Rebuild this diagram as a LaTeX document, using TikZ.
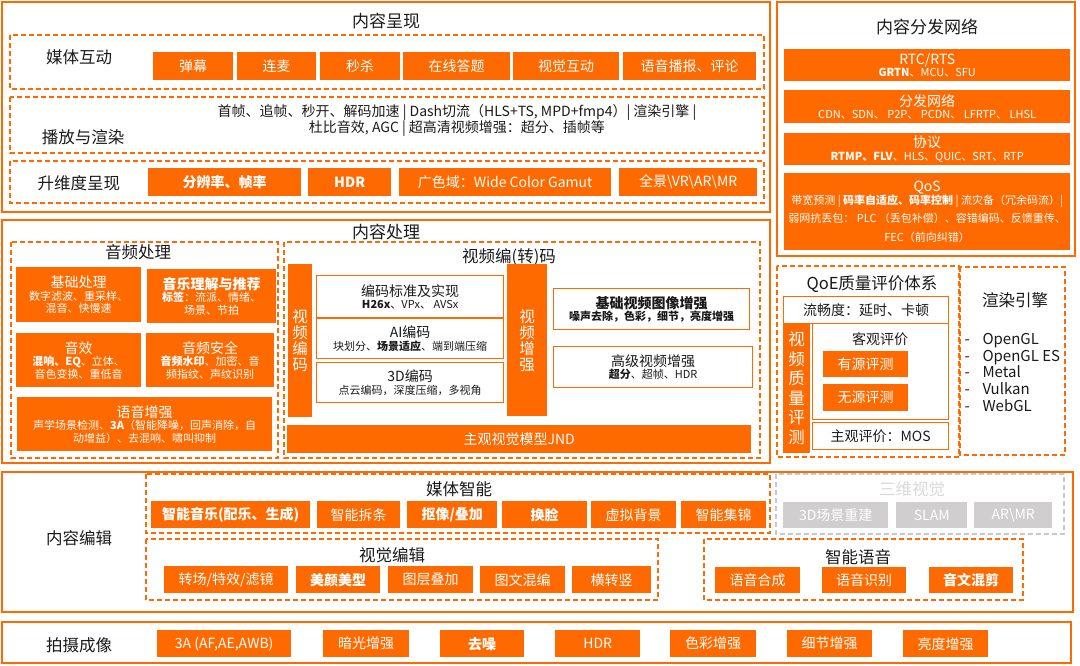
\documentclass[tikz,border=0pt]{standalone}
\usepackage{fontspec}
\setmainfont{Noto Sans CJK SC}

\definecolor{ali}{HTML}{FF6A00}
\definecolor{ink}{HTML}{1A1A1A}
\definecolor{mist}{HTML}{D0CECE}
\definecolor{mistline}{HTML}{C8C8C8}
\definecolor{misttext}{HTML}{D9D9D9}

\newcommand{\titlesize}{\fontsize{17}{20}\selectfont}
\newcommand{\labelsize}{\fontsize{16.5}{19}\selectfont}
\newcommand{\boxsize}{\fontsize{14}{16}\selectfont}
\newcommand{\notesize}{\fontsize{11}{12.5}\selectfont}
\newcommand{\stacksize}{\fontsize{15.5}{16}\selectfont}

\tikzset{
  panel/.style={draw=ali, line width=2pt},
  group/.style={draw=ali, line width=1.4pt, dash pattern=on 5pt off 3pt},
  ghost/.style={draw=mistline, line width=1.4pt, dash pattern=on 5pt off 3pt},
  tag/.style={fill=ali, text=white, inner sep=0pt, align=center, font=\boxsize},
  greytag/.style={fill=mist, text=white, inner sep=0pt, font=\boxsize},
  frame/.style={draw=ali, line width=1.3pt, fill=white, text=ink, inner sep=0pt, align=center, font=\boxsize},
  wh/.style 2 args={minimum width=#1, minimum height=#2, anchor=north west},
  head/.style={font=\titlesize, text=ink},
  side/.style={font=\labelsize, text=ink},
}

\begin{document}
\begin{tikzpicture}[x=1pt, y=-1pt]
    \fill[white] (0,0) rectangle (1080,666);
    \useasboundingbox (0,0) rectangle (1080,666);

    % --- Parte A: content presentation ---
    \draw[panel] (2,2) rectangle (770,212);
    \node[head] (present) at (386,21) {内容呈现};

    % media interaction row
    \draw[group] (10,35) rectangle (764,89);
    \node[side] (interact) at (79,57) {媒体互动};
    \node[tag, wh={80}{28}] (danmu) at (153,52) {弹幕};
    \node[tag, wh={79}{28}] (lianmai) at (237,52) {连麦};
    \node[tag, wh={80}{28}] (miaosha) at (320,52) {秒杀};
    \node[tag, wh={107}{28}] (dati) at (403,52) {在线答题};
    \node[tag, wh={106}{28}] (shijue) at (513,52) {视觉互动};
    \node[tag, wh={133}{28}] (bobao) at (623,52) {语音播报、评论};

    % playback and rendering row
    \draw[group] (10,97) rectangle (764,153);
    \node[side] (render) at (83,137) {播放与渲染};
    \node[font=\boxsize, text=ink, align=center] (playtext) at (457,120)
        {首帧、追帧、秒开、解码加速 | Dash切流（HLS+TS, MPD+fmp4）| 渲染引擎 |\\杜比音效, AGC | 超高清视频增强：超分、插帧等};

    % dimension upgrade row
    \draw[group] (10,161) rectangle (764,203);
    \node[side] (dimension) at (79,183) {升维度呈现};
    \node[tag, wh={153}{28}, font=\boxsize\bfseries] (fenbian) at (148,168) {分辨率、帧率};
    \node[tag, wh={83}{28}, font=\boxsize\bfseries] (hdrtop) at (308,168) {HDR};
    \node[tag, wh={212}{28}] (gamut) at (399,168) {广色域：Wide Color Gamut};
    \node[tag, wh={138}{28}] (vrar) at (619,168) {全景\textbackslash VR\textbackslash AR\textbackslash MR};

    % --- Parte B: content delivery network ---
    \draw[panel] (777,2) rectangle (1075,256);
    \node[head] (cdn) at (927,27) {内容分发网络};
    \node[tag, wh={286}{32}, font=\notesize] (rtc) at (784,49)
        {{\boxsize RTC/RTS}\\\textbf{GRTN}、MCU、SFU};
    \node[tag, wh={286}{33}, font=\notesize] (fenfa) at (784,90)
        {{\boxsize 分发网络}\\CDN、SDN、 P2P、 PCDN、 LFRTP、 LHSL};
    \node[tag, wh={286}{32}, font=\notesize] (xieyi) at (784,133)
        {{\boxsize 协议}\\\textbf{RTMP、FLV}、HLS、QUIC、SRT、RTP};
    \node[tag, wh={286}{77}, font=\notesize] (qos) at (784,173)
        {{\boxsize QoS}\\带宽预测 | \textbf{码率自适应、码率控制} | 流灾备（冗余码流）|\\[6pt]弱网抗丢包： PLC （丢包补偿）、容错编码、反馈重传、\\[6pt]FEC（前向纠错）};

    % --- Parte C: content processing ---
    \draw[panel] (2,220) rectangle (770,463);
    \node[head] (process) at (386,232) {内容处理};

    % audio processing
    \draw[group] (11,242) rectangle (278,458);
    \node[side] (audio) at (138,252) {音频处理};
    \node[tag, wh={125}{55}, font=\notesize] (basic) at (16,267)
        {{\boxsize 基础处理}\\数字滤波、重采样、\\混音、快慢速};
    \node[tag, wh={129}{54}, font=\notesize] (music) at (147,269)
        {{\boxsize\bfseries 音乐理解与推荐}\\\textbf{标签}：流派、情绪、\\场景、节拍};
    \node[tag, wh={125}{54}, font=\notesize] (effect) at (16,333)
        {{\boxsize 音效}\\\textbf{混响、EQ}、立体、\\音色变换、重低音};
    \node[tag, wh={128}{54}, font=\notesize] (safety) at (146,333)
        {{\boxsize 音频安全}\\\textbf{音频水印}、加密、音\\频指纹、声纹识别};
    \node[tag, wh={255}{54}, font=\notesize] (speech) at (17,397)
        {{\boxsize 语音增强}\\声学场景检测、\textbf{3A}（智能降噪，回声消除，自\\动增益）、去混响、啸叫抑制};

    % video transcoding
    \draw[group] (284,242) rectangle (760,458);
    \node[side] (video) at (509,257) {视频编(转)码};
    \node[tag, wh={24}{153}, font=\stacksize] (vcode) at (288,264) {视\\频\\编\\码};
    \node[frame, wh={187}{42}, font=\notesize] (std) at (316,275)
        {{\boxsize 编码标准及实现}\\\textbf{H26x}、VPx、 AVSx};
    \node[frame, wh={187}{40}, font=\notesize] (aicode) at (316,318)
        {{\boxsize AI编码}\\块划分、\textbf{场景适应}、端到端压缩};
    \node[frame, wh={187}{40}, font=\notesize] (code3d) at (316,362)
        {{\boxsize 3D编码}\\点云编码，深度压缩，多视角};
    \node[tag, wh={40}{152}, font=\stacksize] (venh) at (507,264) {视\\频\\增\\强};
    \node[frame, wh={196}{41}, font=\notesize\bfseries] (basicenh) at (553,288)
        {{\boxsize 基础视频图像增强}\\噪声去除，色彩，细节，亮度增强};
    \node[frame, wh={199}{41}, font=\notesize] (advenh) at (553,346)
        {{\boxsize 高级视频增强}\\\textbf{超分}、超帧、HDR};
    \node[tag, wh={464}{28}] (jnd) at (287,425) {主观视觉模型JND};

    % QoE
    \draw[group] (777,266) rectangle (959,457);
    \node[side] (qoe) at (872,284) {QoE质量评价体系};
    \node[frame, wh={165}{27}] (fluent) at (783,296) {流畅度：延时、卡顿};
    \node[frame, wh={136}{96}] (objective) at (812,323) {};
    \node[font=\boxsize, text=ink] (objtitle) at (880,339) {客观评价};
    \node[tag, wh={85}{26}] (fullref) at (823,351) {有源评测};
    \node[tag, wh={85}{27}] (noref) at (823,384) {无源评测};
    \node[frame, wh={136}{27}] (mos) at (812,422) {主观评价：MOS};
    \node[tag, wh={27}{130}, font=\fontsize{16.5}{19.5}\selectfont] (vqa) at (783,323) {视\\频\\质\\量\\评\\测};

    % render engines
    \draw[group] (960,267) rectangle (1065,455);
    \node[side] (engine) at (1015,300) {渲染引擎};
    \node[font=\fontsize{15}{16.7}\selectfont, text=ink, align=left, anchor=west] (apis) at (961,372.5)
        {\makebox[18pt][l]{-}OpenGL\\\makebox[18pt][l]{-}OpenGL ES\\\makebox[18pt][l]{-}Metal\\\makebox[18pt][l]{-}Vulkan\\\makebox[18pt][l]{-}WebGL};

    % --- Parte D: content editing ---
    \draw[panel] (2,472) rectangle (1073,612);
    \node[side] (edit) at (79,538) {内容编辑};

    % media intelligence
    \draw[group] (146,474) rectangle (770,533);
    \node[side] (mediaai) at (459,489) {媒体智能};
    \node[tag, wh={159}{27}, font=\boxsize\bfseries] (aimusic) at (151,501) {智能音乐(配乐、生成)};
    \node[tag, wh={83}{27}] (chaitiao) at (317,501) {智能拆条};
    \node[tag, wh={90}{27}, font=\boxsize\bfseries] (matting) at (407,501) {抠像/叠加};
    \node[tag, wh={85}{27}, font=\boxsize\bfseries] (faceswap) at (502,501) {换脸};
    \node[tag, wh={85}{27}] (virtualbg) at (591,501) {虚拟背景};
    \node[tag, wh={85}{27}] (highlight) at (681,501) {智能集锦};

    % 3D vision (greyed out)
    \draw[ghost] (776,474) rectangle (1064,534);
    \node[font=\labelsize, text=misttext] (threed) at (912,489) {三维视觉};
    \node[greytag, wh={105}{26}] (recon) at (783,502) {3D场景重建};
    \node[greytag, wh={71}{26}] (slam) at (896,502) {SLAM};
    \node[greytag, wh={78}{26}] (armr) at (974,502) {AR\textbackslash MR};

    % visual editing
    \draw[group] (146,539) rectangle (658,600);
    \node[side] (visedit) at (392,555) {视觉编辑};
    \node[tag, wh={124}{27}] (transition) at (164,566) {转场/特效/滤镜};
    \node[tag, wh={84}{27}, font=\boxsize\bfseries] (beauty) at (296,566) {美颜美型};
    \node[tag, wh={85}{27}] (layer) at (388,566) {图层叠加};
    \node[tag, wh={85}{27}] (mixtext) at (480,566) {图文混编};
    \node[tag, wh={79}{27}] (vertical) at (572,566) {横转竖};

    % smart voice
    \draw[group] (704,539) rectangle (1023,600);
    \node[side] (voice) at (858,557) {智能语音};
    \node[tag, wh={85}{26}] (tts) at (715,567) {语音合成};
    \node[tag, wh={84}{26}] (asr) at (822,567) {语音识别};
    \node[tag, wh={84}{26}, font=\boxsize\bfseries] (mixcut) at (929,567) {音文混剪};

    % --- Parte E: capture and imaging ---
    \draw[panel] (2,622) rectangle (1071,663);
    \node[side] (capture) at (79,645) {拍摄成像};
    \node[tag, wh={134}{27}] (threea) at (157,630) {3A (AF,AE,AWB)};
    \node[tag, wh={86}{27}] (lowlight) at (323,630) {暗光增强};
    \node[tag, wh={84}{27}, font=\boxsize\bfseries] (denoise) at (440,630) {去噪};
    \node[tag, wh={85}{27}] (hdr) at (555,630) {HDR};
    \node[tag, wh={86}{27}] (color) at (670,630) {色彩增强};
    \node[tag, wh={85}{27}] (detail) at (787,630) {细节增强};
    \node[tag, wh={85}{27}] (bright) at (903,630) {亮度增强};
\end{tikzpicture}
\end{document}
